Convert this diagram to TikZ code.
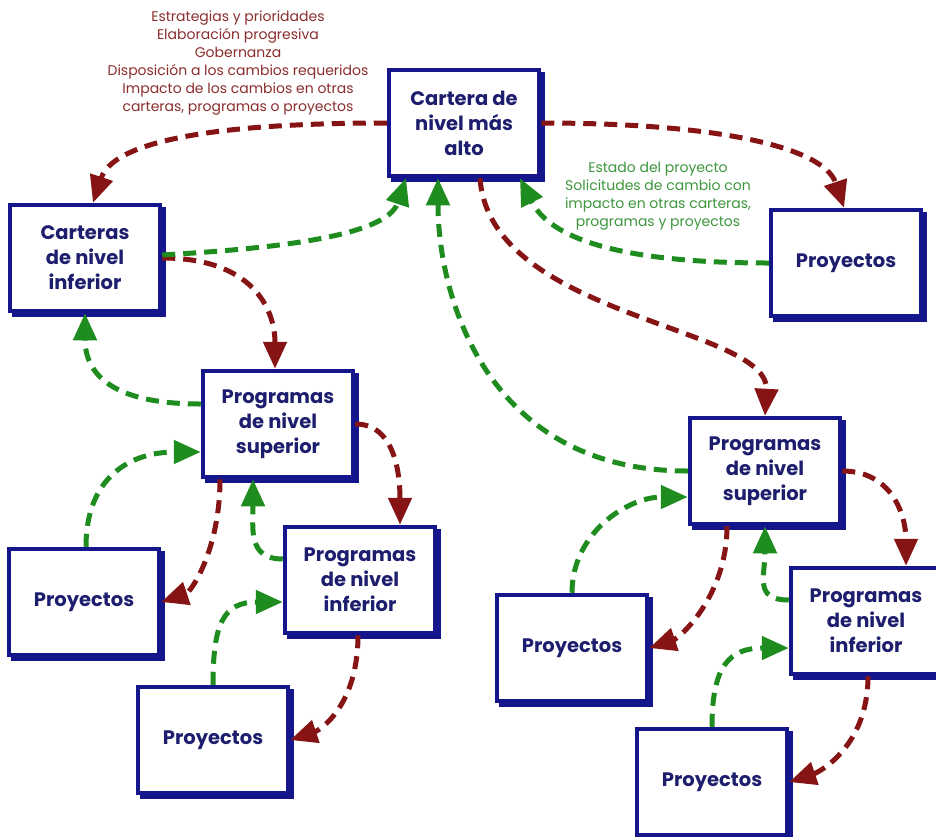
\documentclass[tikz,border=0pt]{standalone}
\usepackage{fontspec}
\setmainfont{Poppins}
\usetikzlibrary{arrows.meta,shadows,calc}

\definecolor{boxblue}{RGB}{22,22,140}
\definecolor{textblue}{RGB}{30,30,110}
\definecolor{downred}{RGB}{135,20,20}
\definecolor{upgreen}{RGB}{30,140,30}
\definecolor{notered}{RGB}{140,45,45}
\definecolor{notegreen}{RGB}{60,150,60}

\begin{document}
\begin{tikzpicture}[x=1pt,y=-1pt,
  box/.style={draw=boxblue, line width=4.5pt, fill=white,
    minimum width=150pt, minimum height=106pt, inner sep=0pt,
    align=center, text=textblue,
    font=\fontsize{19.5}{25}\selectfont\bfseries,
    copy shadow={shadow xshift=4pt, shadow yshift=-4pt}},
  flow/.style={line width=5pt, dash pattern=on 13pt off 8pt,
    -{Triangle[length=27pt,width=23pt]}},
  downflow/.style={flow, draw=downred},
  upflow/.style={flow, draw=upgreen},
  note/.style={align=center, font=\fontsize{14}{18}\selectfont}
]
\fill[white] (0,0) rectangle (936,836);
\useasboundingbox (0,0) rectangle (936,836);

% boxes
\node[box] (top)  at (464,123) {Cartera de\\nivel más\\alto};
\node[box] (cinf) at (85,258)  {Carteras\\de nivel\\inferior};
\node[box] (pr1)  at (846,263) {Proyectos};
\node[box] (ps1)  at (278,424) {Programas\\de nivel\\superior};
\node[box] (pi1)  at (360,580) {Programas\\de nivel\\inferior};
\node[box] (py2)  at (84,602)  {Proyectos};
\node[box] (py3)  at (213,740) {Proyectos};
\node[box] (ps2)  at (765,471) {Programas\\de nivel\\superior};
\node[box] (py4)  at (572,648) {Proyectos};
\node[box] (pi2)  at (866,621) {Programas\\de nivel\\inferior};
\node[box] (py5)  at (712,782) {Proyectos};

% notes
\node[note, text=notered, anchor=north] (downnote) at (238,7)
  {Estrategias y prioridades\\Elaboración progresiva\\Gobernanza\\Disposición a los cambios requeridos\\Impacto de los cambios en otras\\carteras, programas o proyectos};
\node[note, text=notegreen, anchor=north] (upnote) at (658,159)
  {Estado del proyecto\\Solicitudes de cambio con\\impacto en otras carteras,\\programas y proyectos};

% downward flows
\draw[downflow] (top.west) .. controls +(-180,0) and +(20,-60) .. ($(cinf.north)+(8,0)$);
\draw[downflow] (top.east) .. controls +(180,0) and +(-20,-60) .. ($(pr1.north)+(-2,0)$);
\draw[downflow] ($(top.south)+(16,0)$) .. controls +(10,140) and +(5,-90) .. (ps2.north);
\draw[downflow] (cinf.east) .. controls +(90,0) and +(0,-60) .. ($(ps1.north)+(-3,0)$);
\draw[downflow] (ps1.east) .. controls +(40,0) and +(0,-50) .. ($(pi1.north)+(40,0)$);
\draw[downflow] ($(ps1.south)+(-58,0)$) .. controls +(0,70) and +(30,-10) .. (py2.east);
\draw[downflow] ($(pi1.south)+(-2,0)$) .. controls +(0,70) and +(30,-10) .. (py3.east);
\draw[downflow] (ps2.east) .. controls +(50,0) and +(0,-50) .. ($(pi2.north)+(40,0)$);
\draw[downflow] ($(ps2.south)+(-38,0)$) .. controls +(0,70) and +(30,-10) .. (py4.east);
\draw[downflow] ($(pi2.south)+(2,0)$) .. controls +(0,70) and +(30,-10) .. (py5.east);

% upward flows
\draw[upflow] ($(cinf.east)+(0,-3)$) .. controls +(100,-6) and +(-20,60) .. ($(top.south)+(-58,0)$);
\draw[upflow] (pr1.west) .. controls +(-150,0) and +(30,60) .. ($(top.south)+(56,0)$);
\draw[upflow] (ps2.west) .. controls +(-200,0) and +(0,120) .. ($(top.south)+(-26,0)$);
\draw[upflow] ($(ps1.west)+(0,-20)$) .. controls +(-90,0) and +(0,60) .. (cinf.south);
\draw[upflow] ($(py2.north)+(2,0)$) .. controls +(0,-70) and +(-70,0) .. ($(ps1.west)+(0,28)$);
\draw[upflow] ($(pi1.west)+(0,-21)$) .. controls +(-35,0) and +(0,50) .. ($(ps1.south)+(-25,0)$);
\draw[upflow] (py3.north) .. controls +(0,-60) and +(-60,0) .. ($(pi1.west)+(0,22)$);
\draw[upflow] (py4.north) .. controls +(0,-60) and +(-60,0) .. ($(ps2.west)+(0,26)$);
\draw[upflow] ($(pi2.west)+(0,-21)$) .. controls +(-35,0) and +(0,50) .. (ps2.south);
\draw[upflow] (py5.north) .. controls +(0,-60) and +(-60,0) .. ($(pi2.west)+(0,27)$);
\end{tikzpicture}
\end{document}
